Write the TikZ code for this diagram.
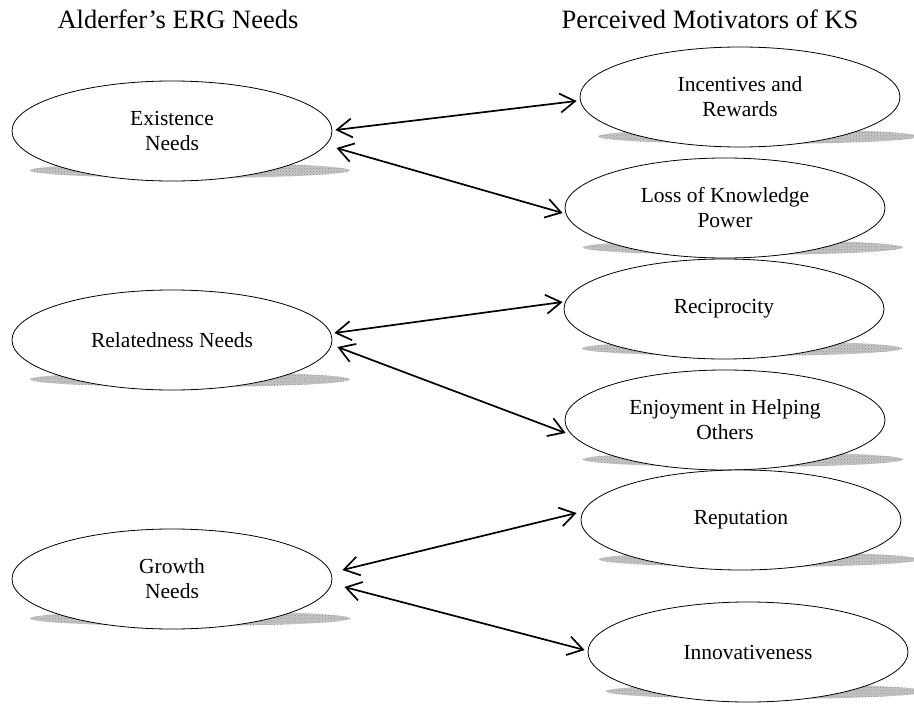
\documentclass[tikz,border=0pt]{standalone}
\usepackage{fontspec}
\setmainfont{Liberation Serif}
\usetikzlibrary{shapes.geometric,arrows.meta,patterns,backgrounds}
\begin{document}
\begin{tikzpicture}[x=1pt,y=-1pt,
  need/.style={ellipse,draw,line width=0.8pt,fill=white,
    minimum width=320pt,minimum height=100pt,inner sep=0pt,
    align=center,font=\fontsize{21.5}{25}\selectfont},
  heading/.style={anchor=base,inner sep=0pt,font=\fontsize{26.5}{30}\selectfont},
  twoway/.style={line width=1.7pt,
    {Straight Barb[length=15pt,width=19pt]}-{Straight Barb[length=15pt,width=19pt]}},
  groundshadow/.style={preaction={fill=gray!45},pattern=crosshatch dots,pattern color=gray!90}]

\useasboundingbox (0,0) rectangle (914,704);

% column headings
\node[heading] (hleft)  at (178,28) {Alderfer’s ERG Needs};
\node[heading] (hright) at (710,28) {Perceived Motivators of KS};

% ERG needs
\node[need] (exist)  at (172,131) {Existence\\Needs};
\node[need] (relat)  at (172,340) {Relatedness Needs};
\node[need] (growth) at (172,579) {Growth\\Needs};

% perceived motivators
\node[need] (incent) at (740,97)  {Incentives and\\Rewards};
\node[need] (loss)   at (725,208) {Loss of Knowledge\\Power};
\node[need] (recip)  at (724,309) {Reciprocity};
\node[need] (enjoy)  at (725,420) {Enjoyment in Helping\\Others};
\node[need] (reput)  at (741,520) {Reputation};
\node[need] (innov)  at (748,652) {Innovativeness};

% flat shadows under each ellipse
\begin{scope}[on background layer]
  \foreach \n in {exist,relat,growth,incent,loss,recip,enjoy,reput,innov}
    \path[groundshadow] ([shift={(18,-11)}]\n.south) ellipse [x radius=160pt, y radius=7.5pt];
\end{scope}

% links between needs and motivators
\draw[twoway] ([shift={(3,-1)}]exist.east)  -- ([shift={(-3,4)}]incent.west);
\draw[twoway] ([shift={(4,17)}]exist.east)  -- ([shift={(-2,5)}]loss.west);
\draw[twoway] ([shift={(2,-7)}]relat.east)  -- ([shift={(-1,-7)}]recip.west);
\draw[twoway] ([shift={(5,7)}]relat.east)   -- ([shift={(1,13)}]enjoy.west);
\draw[twoway] ([shift={(10,-9)}]growth.east) -- ([shift={(-4,-7)}]reput.west);
\draw[twoway] ([shift={(12,8)}]growth.east)  -- ([shift={(-3,-2)}]innov.west);
\end{tikzpicture}
\end{document}
